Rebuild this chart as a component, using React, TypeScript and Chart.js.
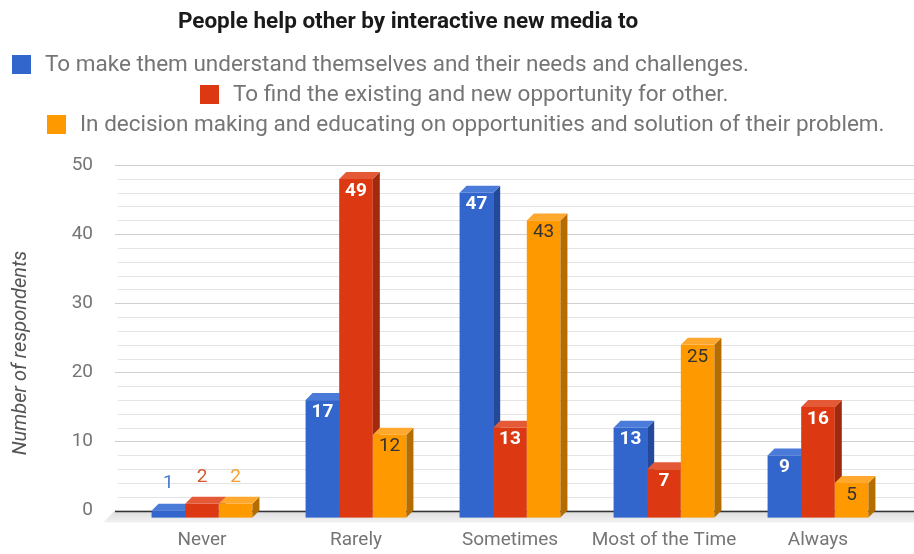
import { useEffect, useRef } from 'react';
import { Chart, registerables } from 'chart.js';

Chart.register(...registerables);

const titleText = 'People help other by interactive new media to';
const categories = ['Never', 'Rarely', 'Sometimes', 'Most of the Time', 'Always'];
const seriesNames = [
  'To make them understand themselves and their needs and challenges.',
  'To find the existing and new opportunity for other.',
  'In decision making and educating on opportunities and solution of their problem.',
];
const understandValues = [1, 17, 47, 13, 9];
const opportunityValues = [2, 49, 13, 7, 16];
const decisionValues = [2, 12, 43, 25, 5];
const yTickValues = [0, 10, 20, 30, 40, 50];
const yAxisTitle = 'Number of respondents';

const FRONT = ['#3366cc', '#dc3912', '#ff9900'];
const SIDE = ['#24489a', '#a02a0e', '#b56d00'];
const TOP = ['#4b7bd8', '#e45a36', '#ffa82e'];
const LABEL_IN = ['#ffffff', '#ffffff', '#333333'];
const LABEL_IN_WEIGHT = ['bold', 'bold', 'normal'];
const LABEL_OUT = ['#4a7bd0', '#d4582e', '#f5a030'];
const DEPTH = 7;
const FONT = 'Roboto, "Noto Sans", sans-serif';

export default function App() {
  const ref = useRef<HTMLCanvasElement | null>(null);

  useEffect(() => {
    document.body.style.margin = '0';
    const canvas = ref.current;
    if (!canvas) return;

    const plugin = {
      id: 'bars3d',
      beforeDatasetsDraw(chart: any) {
        const ctx = chart.ctx as CanvasRenderingContext2D;
        const ys = chart.scales.y;
        const y0 = ys.getPixelForValue(0);
        ctx.save();
        // floor
        const g = ctx.createLinearGradient(0, y0, 0, y0 + 13);
        g.addColorStop(0, '#dcdcdc');
        g.addColorStop(1, '#f4f4f4');
        ctx.fillStyle = g;
        ctx.beginPath();
        ctx.moveTo(115, y0);
        ctx.lineTo(914, y0);
        ctx.lineTo(914, y0 + 12);
        ctx.lineTo(103, y0 + 12);
        ctx.closePath();
        ctx.fill();
        // grid
        for (let v = 2; v <= 50; v += 2) {
          const py = Math.round(ys.getPixelForValue(v)) + 0.5;
          const major = v % 10 === 0;
          ctx.strokeStyle = major ? '#cfcfcf' : '#e4e4e4';
          ctx.lineWidth = 1;
          ctx.beginPath();
          ctx.moveTo(major ? 115 : 118, py);
          ctx.lineTo(914, py);
          ctx.stroke();
        }
        ctx.strokeStyle = '#333333';
        ctx.lineWidth = 1.5;
        ctx.beginPath();
        ctx.moveTo(115, Math.round(y0) + 0.5);
        ctx.lineTo(914, Math.round(y0) + 0.5);
        ctx.stroke();

        // bars
        const nd = chart.data.datasets.length;
        for (let i = 0; i < categories.length; i++) {
          for (let d = 0; d < nd; d++) {
            const el = chart.getDatasetMeta(d).data[i];
            const p = el.getProps(['x', 'y', 'base', 'width'], true);
            const x0 = p.x - p.width / 2;
            const x1 = p.x + p.width / 2;
            const yt = p.y + DEPTH;
            const yb = p.base + DEPTH;
            ctx.fillStyle = FRONT[d];
            ctx.fillRect(x0, yt, x1 - x0, yb - yt);
            ctx.fillStyle = SIDE[d];
            ctx.beginPath();
            ctx.moveTo(x1, yt);
            ctx.lineTo(x1 + DEPTH, yt - DEPTH);
            ctx.lineTo(x1 + DEPTH, yb - DEPTH);
            ctx.lineTo(x1, yb);
            ctx.closePath();
            ctx.fill();
            ctx.fillStyle = TOP[d];
            ctx.beginPath();
            ctx.moveTo(x0, yt);
            ctx.lineTo(x1, yt);
            ctx.lineTo(x1 + DEPTH, yt - DEPTH);
            ctx.lineTo(x0 + DEPTH, yt - DEPTH);
            ctx.closePath();
            ctx.fill();
          }
        }
        // value labels
        ctx.textAlign = 'center';
        ctx.textBaseline = 'middle';
        for (let i = 0; i < categories.length; i++) {
          for (let d = 0; d < nd; d++) {
            const el = chart.getDatasetMeta(d).data[i];
            const p = el.getProps(['x', 'y', 'base', 'width'], true);
            const v = chart.data.datasets[d].data[i];
            const h = p.base - p.y;
            if (h > 30) {
              ctx.font = `${LABEL_IN_WEIGHT[d]} 19px ${FONT}`;
              ctx.fillStyle = LABEL_IN[d];
              ctx.fillText(String(v), p.x, p.y + DEPTH + 12);
            } else {
              ctx.font = `19px ${FONT}`;
              ctx.fillStyle = LABEL_OUT[d];
              ctx.fillText(String(v), p.x, p.y - 20);
            }
          }
        }
        ctx.restore();
        return false;
      },
      afterDraw(chart: any) {
        const ctx = chart.ctx as CanvasRenderingContext2D;
        ctx.save();
        ctx.textBaseline = 'middle';
        ctx.textAlign = 'center';
        ctx.fillStyle = '#1a1a1a';
        ctx.font = `bold 22.5px ${FONT}`;
        ctx.fillText(titleText, 408, 22);
        const rows = [
          { bx: 12, by: 55, ty: 65 },
          { bx: 200, by: 85, ty: 95 },
          { bx: 47, by: 115, ty: 125 },
        ];
        ctx.textAlign = 'left';
        ctx.font = `22.5px ${FONT}`;
        rows.forEach((r, k) => {
          ctx.fillStyle = FRONT[k];
          ctx.fillRect(r.bx, r.by, 19, 19);
          ctx.fillStyle = '#757575';
          ctx.fillText(seriesNames[k], r.bx + 33, r.ty);
        });
        // y axis title
        ctx.translate(21, 353);
        ctx.rotate(-Math.PI / 2);
        ctx.textAlign = 'center';
        ctx.fillStyle = '#555555';
        ctx.font = `italic 20px ${FONT}`;
        ctx.fillText(yAxisTitle, 0, 0);
        ctx.restore();
      },
    };

    const chart = new Chart(canvas, {
      type: 'bar',
      data: {
        labels: categories,
        datasets: [
          { label: seriesNames[0], data: understandValues, backgroundColor: FRONT[0] },
          { label: seriesNames[1], data: opportunityValues, backgroundColor: FRONT[1] },
          { label: seriesNames[2], data: decisionValues, backgroundColor: FRONT[2] },
        ],
      },
      options: {
        animation: false,
        responsive: false,
        events: [],
        layout: { padding: { left: 0, right: 19, top: 165, bottom: 0 } },
        datasets: { bar: { barPercentage: 1, categoryPercentage: 0.655 } },
        plugins: { legend: { display: false }, title: { display: false }, tooltip: { enabled: false } },
        scales: {
          x: {
            grid: { display: false, drawTicks: false },
            border: { display: false },
            ticks: { color: '#757575', font: { family: FONT, size: 19 }, padding: 18, maxRotation: 0, autoSkip: false },
            afterFit: (s: any) => { s.height = 43; },
          },
          y: {
            min: 0,
            max: 50,
            afterBuildTicks: (s: any) => { s.ticks = yTickValues.map((v) => ({ value: v })); },
            grid: { display: false, drawTicks: false },
            border: { display: false },
            ticks: { color: '#757575', font: { family: FONT, size: 19 }, padding: 32 },
            afterFit: (s: any) => { s.width = 125; },
          },
        },
      },
      plugins: [plugin],
    });
    return () => chart.destroy();
  }, []);

  return (
    <div style={{ position: 'absolute', left: 0, top: 0, width: 914, height: 554, background: '#ffffff' }}>
      <canvas ref={ref} width={914} height={554} style={{ width: 914, height: 554, display: 'block' }} />
    </div>
  );
}
